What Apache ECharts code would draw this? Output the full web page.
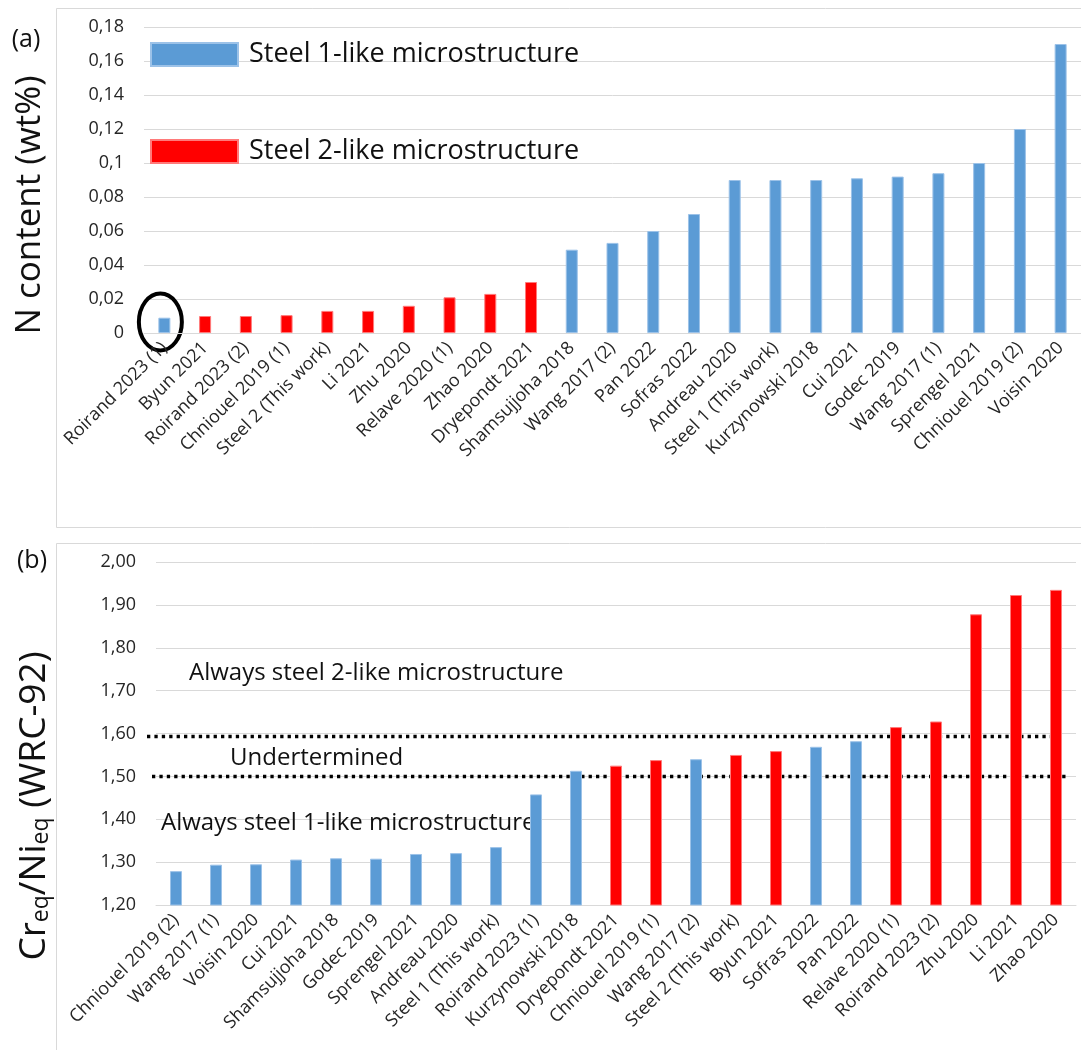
<!DOCTYPE html>
<html><head><meta charset="utf-8">
<script src="https://cdn.jsdelivr.net/npm/echarts@6/dist/echarts.min.js"></script>
<style>html,body{margin:0;padding:0;background:#fff}#c{width:1081px;height:1050px}</style>
</head><body><div id="c"></div>
<script>
// ---------- Panel (a): N content ----------
const catsA = ['Roirand 2023 (1)','Byun 2021','Roirand 2023 (2)','Chniouel 2019 (1)','Steel 2 (This work)','Li 2021','Zhu 2020','Relave 2020 (1)','Zhao 2020','Dryepondt 2021','Shamsujjoha 2018','Wang 2017 (2)','Pan 2022','Sofras 2022','Andreau 2020','Steel 1 (This work)','Kurzynowski 2018','Cui 2021','Godec 2019','Wang 2017 (1)','Sprengel 2021','Chniouel 2019 (2)','Voisin 2020'];
const valsA = [0.009,0.01,0.01,0.0105,0.013,0.013,0.016,0.021,0.023,0.03,0.049,0.053,0.06,0.07,0.09,0.09,0.09,0.091,0.092,0.094,0.1,0.12,0.17];
const typeA = [1,2,2,2,2,2,2,2,2,2,1,1,1,1,1,1,1,1,1,1,1,1,1];
const axisA = {min:0, max:0.18, interval:0.02};

// ---------- Panel (b): Creq/Nieq ----------
const catsB = ['Chniouel 2019 (2)','Wang 2017 (1)','Voisin 2020','Cui 2021','Shamsujjoha 2018','Godec 2019','Sprengel 2021','Andreau 2020','Steel 1 (This work)','Roirand 2023 (1)','Kurzynowski 2018','Dryepondt 2021','Chniouel 2019 (1)','Wang 2017 (2)','Steel 2 (This work)','Byun 2021','Sofras 2022','Pan 2022','Relave 2020 (1)','Roirand 2023 (2)','Zhu 2020','Li 2021','Zhao 2020'];
const valsB = [1.279,1.294,1.295,1.306,1.309,1.308,1.319,1.321,1.335,1.458,1.513,1.525,1.538,1.540,1.550,1.559,1.569,1.582,1.615,1.628,1.878,1.923,1.935];
const typeB = [1,1,1,1,1,1,1,1,1,1,1,2,2,1,2,2,1,1,2,2,2,2,2];
const axisB = {min:1.2, max:2.0, interval:0.1};
const thresholdsB = [1.593, 1.5];

const seriesNames = ['Steel 1-like microstructure','Steel 2-like microstructure'];
const BLUE = '#5b9bd5', RED = '#ff0000';
const FONT = 'Open Sans';

function pick(vals, types, t){ return vals.map((v,i)=> types[i]===t ? v : '-'); }

const chart = echarts.init(document.getElementById('c'), null, {renderer:'canvas'});

function xAxisCfg(cats, gi){
  return {type:'category', gridIndex:gi, data:cats,
    axisLine:{show:true, lineStyle:{color:'#d9d9d9', width:1}},
    axisTick:{show:false},
    axisLabel:{interval:0, rotate:45, margin:12, fontFamily:FONT, fontSize:18, color:'#262626'}};
}
function yAxisCfg(ax, gi, fmt){
  return {type:'value', gridIndex:gi, min:ax.min, max:ax.max, interval:ax.interval,
    axisLine:{show:false}, axisTick:{show:false},
    splitLine:{lineStyle:{color:'#d9d9d9', width:1}},
    axisLabel:{margin:20, fontFamily:FONT, fontSize:18, color:'#262626', formatter:fmt}};
}
const barStyle = (c, b) => ({color:c, borderColor:b, borderWidth:1});

const option = {
  animation:false,
  backgroundColor:'#fff',
  textStyle:{fontFamily:FONT},
  grid:[
    {left:144, top:27, width:943, height:306},
    {left:156, top:562, width:920, height:343}
  ],
  legend:{
    data:seriesNames, orient:'vertical', left:145, top:36, itemWidth:87, itemHeight:23, itemGap:70,
    icon:'rect', selectedMode:false,
    textStyle:{fontFamily:FONT, fontSize:27, color:'#111', padding:[0,0,0,6]}
  },
  xAxis:[xAxisCfg(catsA,0), xAxisCfg(catsB,1)],
  yAxis:[
    yAxisCfg(axisA,0, v => String(+v.toFixed(2)).replace('.', ',')),
    yAxisCfg(axisB,1, v => v.toFixed(2).replace('.', ','))
  ],
  series:[
    {name:seriesNames[0], type:'bar', xAxisIndex:0, yAxisIndex:0, barWidth:12, barGap:'-100%', data:pick(valsA,typeA,1), itemStyle:barStyle(BLUE,'#9cc2e8')},
    {name:seriesNames[1], type:'bar', xAxisIndex:0, yAxisIndex:0, barWidth:12, barGap:'-100%', data:pick(valsA,typeA,2), itemStyle:barStyle(RED,'#ff7a7a')},
    {name:seriesNames[0], type:'bar', xAxisIndex:1, yAxisIndex:1, barWidth:12, barGap:'-100%', data:pick(valsB,typeB,1), itemStyle:barStyle(BLUE,'#9cc2e8')},
    {name:seriesNames[1], type:'bar', xAxisIndex:1, yAxisIndex:1, barWidth:12, barGap:'-100%', data:pick(valsB,typeB,2), itemStyle:barStyle(RED,'#ff7a7a')}
  ]
};
chart.setOption(option);

// annotations positioned through the chart's own scales
const firstBar = chart.convertToPixel({gridIndex:0}, [0, 0]);
const thrY = thresholdsB.map(v => chart.convertToPixel({yAxisIndex:1}, v));
const graphics = [
  {type:'rect', silent:true, z:-1, shape:{x:56.5, y:8.5, width:1100, height:519}, style:{fill:null, stroke:'#d9d9d9', lineWidth:1}},
  {type:'rect', silent:true, z:-1, shape:{x:56.5, y:543.5, width:1100, height:600}, style:{fill:null, stroke:'#d9d9d9', lineWidth:1}},
  {type:'text', x:26, y:40, style:{text:'(a)', font:'25px "Open Sans"', fill:'#111', align:'center', verticalAlign:'middle'}},
  {type:'text', x:32, y:561, style:{text:'(b)', font:'25px "Open Sans"', fill:'#111', align:'center', verticalAlign:'middle'}},
  {type:'text', x:30, y:205, rotation:Math.PI/2, style:{text:'N content (wt%)', font:'35px "Open Sans"', fill:'#111', align:'center', verticalAlign:'middle'}},
  {type:'text', x:34, y:806, rotation:Math.PI/2, style:{
      text:'{m|Cr}{s|eq}{m|/Ni}{s|eq}{m| (WRC-92)}', align:'center', verticalAlign:'middle',
      rich:{m:{fontFamily:FONT, fontSize:37, fill:'#111', color:'#111'}, s:{fontFamily:FONT, fontSize:23, fill:'#111', color:'#111', verticalAlign:'bottom'}}}},
  {type:'ellipse', silent:true, shape:{cx:firstBar[0]-4, cy:firstBar[1]-11, rx:21.5, ry:28.5}, style:{fill:null, stroke:'#000', lineWidth:4}},
  {type:'line', silent:true, shape:{x1:147, y1:thrY[0], x2:1062, y2:thrY[0]}, style:{stroke:'#000', lineWidth:3.5, lineDash:[3.3,4.1]}},
  {type:'line', silent:true, shape:{x1:152, y1:thrY[1], x2:1067, y2:thrY[1]}, style:{stroke:'#000', lineWidth:3.5, lineDash:[3.3,4.1]}},
  {type:'text', x:189, y:673, style:{text:'Always steel 2-like microstructure', font:'24px "Open Sans"', fill:'#111', verticalAlign:'middle'}},
  {type:'text', x:230, y:758, style:{text:'Undertermined', font:'24px "Open Sans"', fill:'#111', verticalAlign:'middle'}},
  {type:'text', x:161, y:823, style:{text:'Always steel 1-like microstructure', font:'24px "Open Sans"', fill:'#111', verticalAlign:'middle'}}
];
chart.setOption({graphic:graphics});
</script>
</body></html>
